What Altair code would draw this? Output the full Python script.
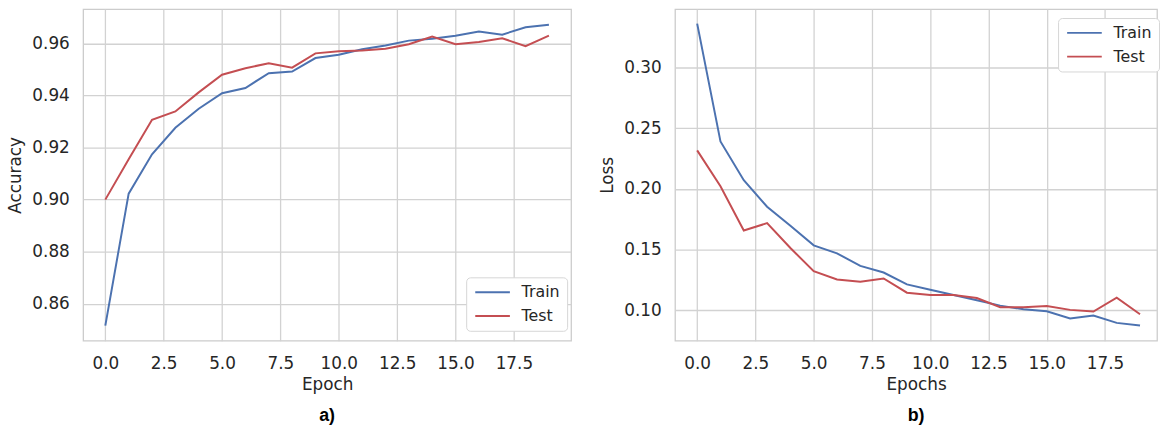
import altair as alt
import pandas as pd

epochs = list(range(20))
train_acc = [0.8516, 0.9023, 0.9174, 0.9276, 0.9349, 0.9409, 0.9429, 0.9486, 0.9492, 0.9544,
             0.9557, 0.9578, 0.9592, 0.9611, 0.9618, 0.9630, 0.9646, 0.9634, 0.9662, 0.9672]
test_acc = [0.9000, 0.9155, 0.9307, 0.9339, 0.9412, 0.9480, 0.9505, 0.9524, 0.9507, 0.9562,
            0.9570, 0.9573, 0.9580, 0.9597, 0.9627, 0.9597, 0.9606, 0.9620, 0.9590, 0.9630]
train_loss = [0.3363, 0.2392, 0.2072, 0.1854, 0.1696, 0.1535, 0.1469, 0.1366, 0.1311, 0.1213,
              0.1169, 0.1126, 0.1082, 0.1038, 0.1008, 0.0992, 0.0932, 0.0956, 0.0896, 0.0874]
test_loss = [0.2318, 0.2023, 0.1658, 0.1718, 0.1513, 0.1322, 0.1254, 0.1235, 0.1262, 0.1145,
             0.1126, 0.1126, 0.1101, 0.1025, 0.1025, 0.1035, 0.1003, 0.0989, 0.1104, 0.0967]

x_ticks = [0, 2.5, 5, 7.5, 10, 12.5, 15, 17.5]
acc_ticks = [0.86, 0.88, 0.90, 0.92, 0.94, 0.96]
loss_ticks = [0.10, 0.15, 0.20, 0.25, 0.30]
series = ["Train", "Test"]
colors = ["#4C72B0", "#C44E52"]
TXT = "#262626"


def long(train, test):
    return pd.DataFrame({
        "epoch": epochs + epochs,
        "value": train + test,
        "series": ["Train"] * len(train) + ["Test"] * len(test),
    })


LEG = dict(title=None, orient="none", fillColor="white", strokeColor="#d6d6d6",
           cornerRadius=4, padding=7, symbolType="M-1,0H5", symbolSize=136,
           symbolStrokeWidth=2, labelFont="DejaVu Sans", labelFontSize=16,
           labelColor=TXT, labelOffset=33, rowPadding=8)


def panel(df, ytitle, xtitle, ydom, yticks, xdom, width, lx, ly, label):
    return alt.Chart(df).mark_line(strokeWidth=2, clip=True).encode(
        x=alt.X("epoch:Q", scale=alt.Scale(domain=xdom, nice=False, zero=False),
                axis=alt.Axis(values=x_ticks, format=".1f", title=xtitle)),
        y=alt.Y("value:Q", scale=alt.Scale(domain=ydom, nice=False, zero=False),
                axis=alt.Axis(values=yticks, format=".2f", title=ytitle)),
        color=alt.Color("series:N", sort=series,
                        scale=alt.Scale(domain=series, range=colors),
                        legend=alt.Legend(legendX=lx, legendY=ly, **LEG)),
    ).properties(
        width=width, height=335,
        title=alt.TitleParams(text=label, orient="bottom", anchor="middle", frame="group",
                              font="Liberation Sans", fontSize=18, fontWeight="bold",
                              color="black", offset=15),
    )


left = panel(long(train_acc, test_acc), "Accuracy", "Epoch", [0.8458, 0.9732], acc_ticks,
             [-0.95, 19.95], 493, 387, 271, "a)")
right = panel(long(train_loss, test_loss), "Loss", "Epochs", [0.0749, 0.3483], loss_ticks,
              [-0.95, 19.73], 487, 387, 9, "b)")

chart = alt.hconcat(left, right, spacing=26).resolve_scale(
    color="independent", x="independent", y="independent"
).resolve_legend(color="independent").configure_axis(
    grid=True, gridColor="#d2d2d2", gridWidth=1.3, domain=False, ticks=False, tickSize=0,
    labelFont="DejaVu Sans", labelFontSize=17, labelColor=TXT,
    titleFont="DejaVu Sans", titleFontSize=17, titleFontWeight="normal", titleColor=TXT,
    titlePadding=7,
).configure_axisX(labelPadding=15, titlePadding=5).configure_axisY(labelPadding=14).configure_view(
    stroke="#cccccc", strokeWidth=1.3
).properties(
    padding={"left": 6, "top": 6, "right": 0, "bottom": 0}, background="white"
)

chart.save("out.html", embed_options={"renderer": "svg", "actions": False})
